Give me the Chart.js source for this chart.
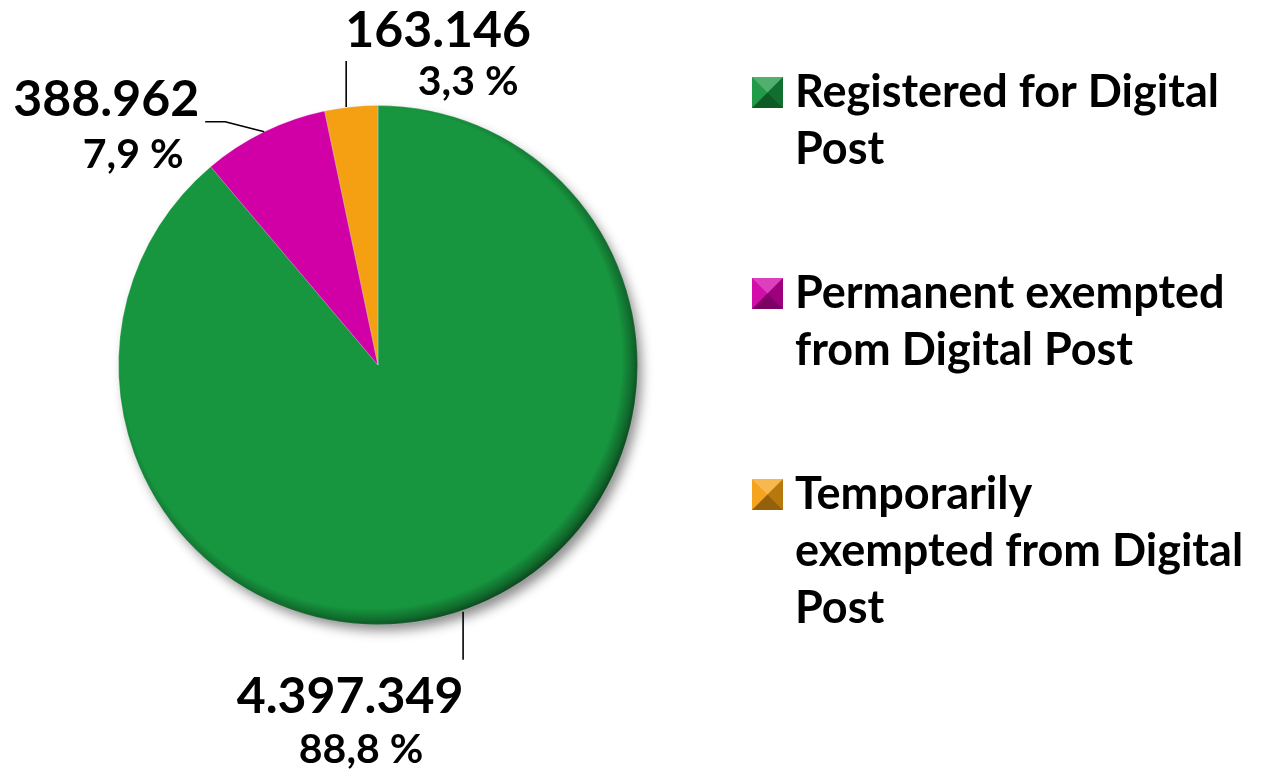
<!DOCTYPE html>
<html>
<head>
<meta charset="utf-8">
<script src="https://cdn.jsdelivr.net/npm/chart.js@4"></script>
<style>
  html, body { margin: 0; padding: 0; background: #ffffff; }
  #wrap { width: 1261px; height: 777px; position: relative; }
</style>
</head>
<body>
<div id="wrap"><canvas id="digitalPostChart"></canvas></div>
<script>
// categories (legend lines as they wrap in the picture)
var categories = [
    ['Registered for Digital', 'Post'],
    ['Permanent exempted', 'from Digital Post'],
    ['Temporarily', 'exempted from Digital', 'Post']
];
var counts = [4397349, 388962, 163146];
var percentLabels = ['88,8 %', '7,9 %', '3,3 %'];
var sliceColors = ['#17963f', '#d000a6', '#f5a013'];

function formatThousands(n) {
    return String(n).replace(/\B(?=(\d{3})+(?!\d))/g, '.');
}

var FONT = 'Lato, "Open Sans", "DejaVu Sans", sans-serif';

// soft drop shadow under the whole pie
var pieShadow = {
    id: 'pieShadow',
    beforeDatasetsDraw: function (chart) {
        var arc = chart.getDatasetMeta(0).data[0];
        if (!arc) return;
        var ctx = chart.ctx;
        ctx.save();
        ctx.shadowColor = 'rgba(0,0,0,0.45)';
        ctx.shadowBlur = 12;
        ctx.shadowOffsetX = 5;
        ctx.shadowOffsetY = 7;
        ctx.beginPath();
        ctx.arc(arc.x, arc.y, arc.outerRadius - 1, 0, Math.PI * 2);
        ctx.fillStyle = '#555';
        ctx.fill();
        ctx.restore();
    }
};

// darker rim on top of the slices, heavier towards bottom right (bevel look)
var pieRim = {
    id: 'pieRim',
    afterDatasetsDraw: function (chart) {
        var arc = chart.getDatasetMeta(0).data[0];
        if (!arc) return;
        var ctx = chart.ctx;
        var r = arc.outerRadius;
        var gx = arc.x - 7, gy = arc.y - 7;
        var g = ctx.createRadialGradient(gx, gy, 0, gx, gy, r + 10);
        g.addColorStop(0, 'rgba(0,0,0,0)');
        g.addColorStop(0.93, 'rgba(0,0,0,0)');
        g.addColorStop(0.975, 'rgba(0,0,0,0.3)');
        g.addColorStop(1, 'rgba(0,0,0,0.55)');
        ctx.save();
        ctx.beginPath();
        ctx.arc(arc.x, arc.y, r, 0, Math.PI * 2);
        ctx.fillStyle = g;
        ctx.fill();
        ctx.restore();
    }
};

// value + percentage labels with leader lines
var sliceLabels = {
    id: 'sliceLabels',
    afterDatasetsDraw: function (chart, args, opts) {
        var ctx = chart.ctx;
        var meta = chart.getDatasetMeta(0);
        meta.data.forEach(function (arc, i) {
            var p = opts.placement[i];
            var mid = (arc.startAngle + arc.endAngle) / 2;
            var ax = arc.x + Math.cos(mid) * arc.outerRadius;
            var ay = arc.y + Math.sin(mid) * arc.outerRadius;

            ctx.save();
            ctx.strokeStyle = '#000';
            ctx.lineWidth = 1.6;
            ctx.beginPath();
            ctx.moveTo(ax + p.line[0][0], ay + p.line[0][1]);
            p.line.slice(1).forEach(function (pt) {
                ctx.lineTo(ax + pt[0], ay + pt[1]);
            });
            ctx.stroke();

            ctx.fillStyle = '#000';
            ctx.textAlign = 'center';
            ctx.textBaseline = 'alphabetic';
            ctx.font = 'bold 50px ' + FONT;
            ctx.fillText(formatThousands(chart.data.datasets[0].data[i]), ax + p.value[0], ay + p.value[1]);
            ctx.font = 'bold 41px ' + FONT;
            ctx.fillText(percentLabels[i], ax + p.pct[0], ay + p.pct[1]);
            ctx.restore();
        });
    }
};

// legend on the right with bevelled square markers
var sideLegend = {
    id: 'sideLegend',
    afterDraw: function (chart, args, opts) {
        var ctx = chart.ctx;
        var labels = chart.data.labels;
        labels.forEach(function (lines, i) {
            var base = opts.top + i * opts.itemGap;
            var bx = opts.left, by = base - 30, s = 31;
            ctx.save();
            ctx.fillStyle = sliceColors[i];
            ctx.fillRect(bx, by, s, s);
            var cx = bx + s / 2, cy = by + s / 2;
            var tri = function (x1, y1, x2, y2, col) {
                ctx.beginPath();
                ctx.moveTo(x1, y1);
                ctx.lineTo(x2, y2);
                ctx.lineTo(cx, cy);
                ctx.closePath();
                ctx.fillStyle = col;
                ctx.fill();
            };
            tri(bx, by, bx + s, by, 'rgba(255,255,255,0.25)');
            tri(bx, by, bx, by + s, 'rgba(255,255,255,0.05)');
            tri(bx + s, by, bx + s, by + s, 'rgba(0,0,0,0.25)');
            tri(bx, by + s, bx + s, by + s, 'rgba(0,0,0,0.40)');

            ctx.fillStyle = '#000';
            ctx.textAlign = 'left';
            ctx.textBaseline = 'alphabetic';
            ctx.font = 'bold 45px ' + FONT;
            lines.forEach(function (line, j) {
                ctx.fillText(line, opts.textLeft, base + j * opts.lineHeight, 462);
            });
            ctx.restore();
        });
    }
};

var ctx = document.getElementById('digitalPostChart').getContext('2d');

var digitalPostChart = new Chart(ctx, {
    type: 'pie',
    data: {
        labels: categories,
        datasets: [{
            data: counts,
            backgroundColor: sliceColors,
            borderColor: 'rgba(255,255,255,0.25)',
            borderWidth: 1
        }]
    },
    options: {
        responsive: true,
        maintainAspectRatio: false,
        animation: false,
        layout: {
            padding: { left: 118, right: 623, top: 105, bottom: 152 }
        },
        plugins: {
            legend: { display: false },
            tooltip: { enabled: false },
            sliceLabels: {
                placement: [
                    { line: [[-4, 3], [-4, 51]], value: [-117, 104], pct: [-106, 154] },
                    { line: [[0, 0], [-39, -10], [-59, -10]], value: [-158, -16], pct: [-131, 36] },
                    { line: [[-5, 0], [-5, -46]], value: [87, -60], pct: [117, -12] }
                ]
            },
            sideLegend: {
                left: 752,
                textLeft: 795,
                top: 107,
                itemGap: 201,
                lineHeight: 57
            }
        }
    },
    plugins: [pieShadow, pieRim, sliceLabels, sideLegend]
});
</script>
</body>
</html>
